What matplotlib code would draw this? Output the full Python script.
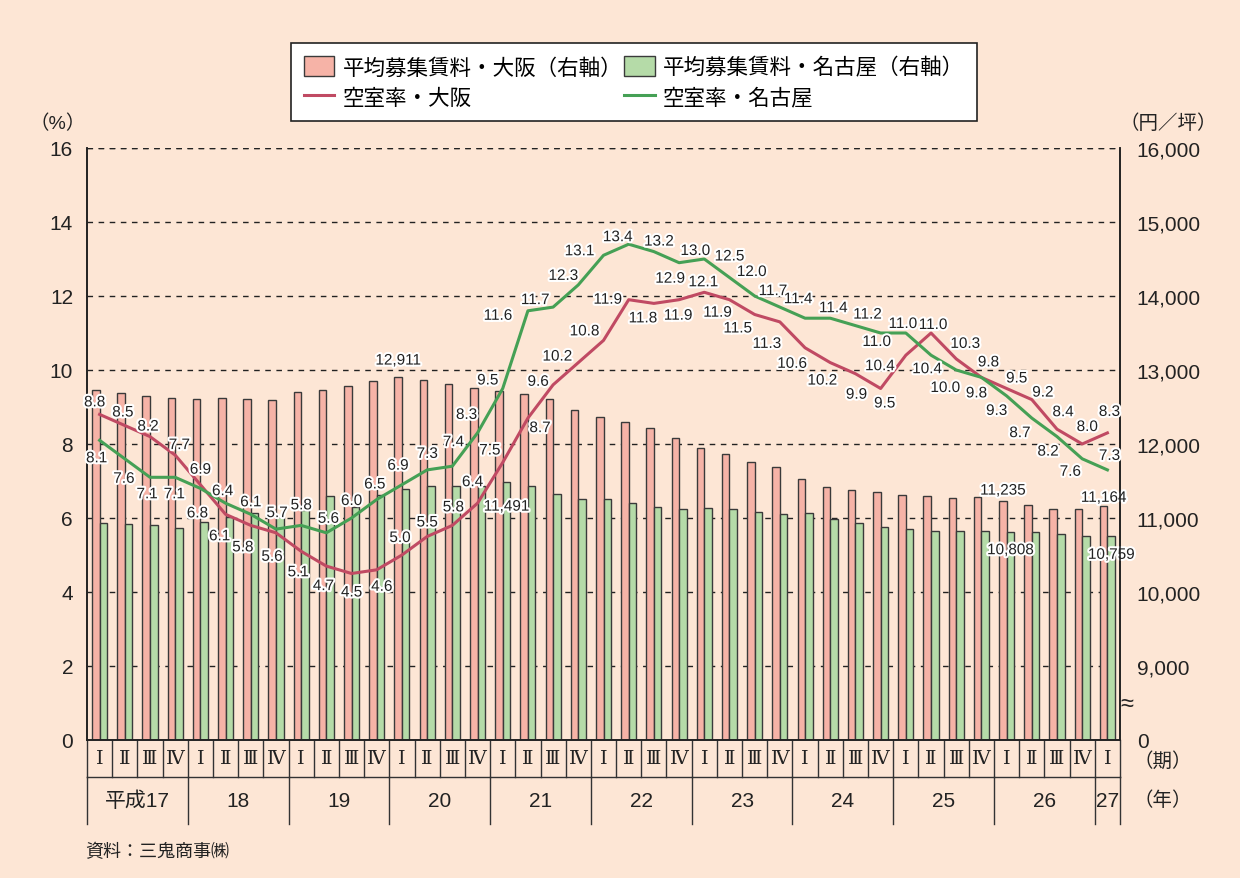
import numpy as np
import matplotlib.pyplot as plt
from matplotlib.patches import Patch
from matplotlib.lines import Line2D
import matplotlib.patheffects as pe
import matplotlib.transforms as mtransforms

plt.rcParams['font.family'] = ['Liberation Sans', 'Noto Sans CJK JP', 'DejaVu Sans']

# data: 平成17年I期 .. 平成27年I期
quarters = ['Ⅰ', 'Ⅱ', 'Ⅲ', 'Ⅳ'] * 10 + ['Ⅰ']
years = ['平成17', '18', '19', '20', '21', '22', '23', '24', '25', '26', '27']
year_len = [4, 4, 4, 4, 4, 4, 4, 4, 4, 4, 1]

vac_osaka = [8.8, 8.5, 8.2, 7.7, 6.9, 6.1, 5.8, 5.6, 5.1, 4.7, 4.5, 4.6, 5.0, 5.5, 5.8, 6.4,
             7.5, 8.7, 9.6, 10.2, 10.8, 11.9, 11.8, 11.9, 12.1, 11.9, 11.5, 11.3, 10.6, 10.2,
             9.9, 9.5, 10.4, 11.0, 10.3, 9.8, 9.5, 9.2, 8.4, 8.0, 8.3]
vac_nagoya = [8.1, 7.6, 7.1, 7.1, 6.8, 6.4, 6.1, 5.7, 5.8, 5.6, 6.0, 6.5, 6.9, 7.3, 7.4, 8.3,
              9.5, 11.6, 11.7, 12.3, 13.1, 13.4, 13.2, 12.9, 13.0, 12.5, 12.0, 11.7, 11.4, 11.4,
              11.2, 11.0, 11.0, 10.4, 10.0, 9.8, 9.3, 8.7, 8.2, 7.6, 7.3]
rent_osaka = [12723, 12692, 12655, 12615, 12606, 12615, 12606, 12601, 12709, 12723, 12781,
              12853, 12911, 12871, 12817, 12759, 12718, 12673, 12606, 12458, 12359, 12292,
              12220, 12086, 11942, 11861, 11763, 11693, 11521, 11421, 11381, 11346, 11314,
              11292, 11265, 11279, 11235, 11182, 11125, 11121, 11164]
rent_nagoya = [10933, 10919, 10910, 10861, 10942, 11009, 11067, 11013, 11112, 11292, 11148,
               11305, 11390, 11439, 11435, 11439, 11491, 11427, 11319, 11252, 11252, 11202,
               11152, 11121, 11130, 11121, 11085, 11058, 11071, 10990, 10936, 10874, 10856,
               10829, 10829, 10829, 10808, 10811, 10789, 10763, 10759]

left_ticks = [0, 2, 4, 6, 8, 10, 12, 14, 16]
right_ticks = [8000, 9000, 10000, 11000, 12000, 13000, 14000, 15000, 16000]
right_labels = ['0', '9,000', '10,000', '11,000', '12,000', '13,000', '14,000', '15,000', '16,000']

# label offsets in pixels (dx, dy)
off_osaka = [(-5, 12), (-2, 13), (-2, 10), (4, 10), (0, 15), (-6, -22), (-8, -22), (-4, -24),
             (-3, -21), (-3, -20), (0, -19), (5, -17), (-2, 17), (0, 14), (1, 18), (-5, 21),
             (-13, 12), (12, -10), (-15, 3), (-21, 6), (-19, 9), (-21, 0), (-11, -15), (-1, -16),
             (-1, 10), (-12, -13), (-17, -14), (-13, -22), (-13, -16), (-8, -18), (1, -21),
             (4, -15), (-26, -11), (2, 8), (9, 15), (7, 15), (10, 10), (11, 7), (6, 17), (5, 17),
             (2, 21)]
off_nagoya = [(-3, -18), (-1, -20), (-3, -17), (-1, -17), (-3, -25), (-3, 12), (0, 12), (1, 16),
              (0, 20), (2, 14), (0, 17), (-2, 15), (-4, 19), (0, 16), (1, 24), (-11, 18),
              (-15, 8), (-30, -5), (-18, 7), (-15, 9), (-24, 4), (-11, 7), (5, 10), (-9, -16),
              (-9, 8), (0, 21), (-3, 24), (-7, 16), (-7, 19), (3, 10), (12, 11), (-4, -9),
              (-3, 9), (-4, -14), (-11, -18), (-5, -16), (-10, -15), (-12, -15), (-9, -15),
              (-12, -13), (2, 14)]

bg = '#fde6d5'
c_pink = '#f6b3a7'
c_lgreen = '#b5dba8'
c_red = '#c04a63'
c_green = '#45a055'
ink = '#222222'

fig = plt.figure(figsize=(12.4, 8.79), dpi=100, facecolor=bg)
W, H = 1240, 879
ax = fig.add_axes([87 / W, 1 - 741 / H, (1120 - 87) / W, (741 - 149) / H])
ax2 = ax.twinx()
ax.set_zorder(ax2.get_zorder() + 1)
ax.patch.set_visible(False)
ax2.set_facecolor(bg)

x = np.arange(len(quarters))
w = 0.3

# bars (right axis)
ax2.bar(x - w / 2, np.array(rent_osaka) - 8000, bottom=8000, width=w, color=c_pink,
        edgecolor='#3a3a3a', linewidth=1, zorder=2)
ax2.bar(x + w / 2, np.array(rent_nagoya) - 8000, bottom=8000, width=w, color=c_lgreen,
        edgecolor='#3a3a3a', linewidth=1, zorder=2)
for v in right_ticks[1:]:
    ax2.axhline(v, color=ink, lw=1, ls=(0, (4, 4)), zorder=1)
ax2.set_ylim(8000, 16000)
ax2.set_yticks(right_ticks)
ax2.set_yticklabels(right_labels)

# lines (left axis)
ax.plot(x, vac_osaka, color=c_red, lw=2.2, zorder=3)
ax.plot(x, vac_nagoya, color=c_green, lw=2.2, zorder=3)
ax.set_xlim(-0.5, len(x) - 0.5)
ax.set_ylim(0, 16)
ax.set_yticks(left_ticks)
ax.set_xticks([])

stroke = [pe.withStroke(linewidth=3, foreground='white')]
for i in range(len(x)):
    ax.annotate(f'{vac_osaka[i]:.1f}', (x[i], vac_osaka[i]), xytext=off_osaka[i],
                textcoords='offset pixels', ha='center', va='center', fontsize=11,
                color=ink, path_effects=stroke, zorder=5)
    ax.annotate(f'{vac_nagoya[i]:.1f}', (x[i], vac_nagoya[i]), xytext=off_nagoya[i],
                textcoords='offset pixels', ha='center', va='center', fontsize=11,
                color=ink, path_effects=stroke, zorder=5)

# rent labels
for i, dy in [(12, 16), (36, 10), (40, 8)]:
    ax2.annotate(f'{rent_osaka[i]:,}', (x[i] - w / 2, rent_osaka[i]), xytext=(0, dy),
                 textcoords='offset pixels', ha='center', va='center', fontsize=11,
                 color=ink, path_effects=stroke, zorder=5)
for i, dy in [(16, -25), (36, -18), (40, -19)]:
    ax2.annotate(f'{rent_nagoya[i]:,}', (x[i] + w / 2, rent_nagoya[i]), xytext=(0, dy),
                 textcoords='offset pixels', ha='center', va='center', fontsize=11,
                 color=ink, path_effects=stroke, zorder=5)

for a in (ax, ax2):
    a.spines['top'].set_visible(False)
    for s in ('left', 'right', 'bottom'):
        a.spines[s].set_color(ink)
        a.spines[s].set_linewidth(1.2)
ax2.axhline(16000, color=ink, lw=1, ls=(0, (4, 4)), zorder=1)
ax.tick_params(axis='y', length=0, pad=10, labelsize=15, colors=ink)
ax2.tick_params(axis='y', length=0, pad=12, labelsize=15, colors=ink)
ax2.text(1.0, 8480, '≈', transform=mtransforms.blended_transform_factory(ax2.transAxes, ax2.transData),
         ha='left', va='center', fontsize=17, color=ink, zorder=6)

# period / year table under the axis
tr = mtransforms.blended_transform_factory(ax.transData, ax.transAxes)
ah = 741 - 149
r1 = -(778 - 741) / ah
r2 = -(825 - 741) / ah
lk = dict(color='#333333', lw=1, transform=tr, clip_on=False)
for b in np.arange(-0.5, len(x), 1.0):
    ax.plot([b, b], [0, r1], **lk)
ax.plot([-0.5, len(x) - 0.5], [r1, r1], **lk)
pos = -0.5
for n in [0] + year_len:
    pos += n
    ax.plot([pos, pos], [r1, r2], **lk)
for i, q in enumerate(quarters):
    ax.text(x[i], r1 / 2, q, transform=tr, ha='center', va='center', fontsize=14,
            family=['DejaVu Serif'], color=ink)
start = -0.5
for y, n in zip(years, year_len):
    ax.text(start + n / 2, (r1 + r2) / 2, y, transform=tr, ha='center', va='center',
            fontsize=15, color=ink)
    start += n

# units and notes
fig.text(58 / W, 1 - 124 / H, '（%）', ha='center', va='center', fontsize=14, color=ink)
fig.text(1168 / W, 1 - 124 / H, '（円／坪）', ha='center', va='center', fontsize=14, color=ink)
fig.text(1163 / W, 1 - 761 / H, '（期）', ha='center', va='center', fontsize=14, color=ink)
fig.text(1163 / W, 1 - 801 / H, '（年）', ha='center', va='center', fontsize=14, color=ink)
fig.text(85 / W, 1 - 853 / H, '資料：三鬼商事㈱', ha='left', va='center', fontsize=13, color=ink)

handles = [Patch(fc=c_pink, ec='#3a3a3a', lw=1),
           Line2D([], [], color=c_red, lw=2.2),
           Patch(fc=c_lgreen, ec='#3a3a3a', lw=1),
           Line2D([], [], color=c_green, lw=2.2)]
labels = ['平均募集賃料・大阪（右軸）', '空室率・大阪', '平均募集賃料・名古屋（右軸）', '空室率・名古屋']
leg = fig.legend(handles, labels, loc='upper left', ncol=2, mode='expand',
                 bbox_to_anchor=(280 / W, 1 - 117 / H, 708 / W, 84 / H),
                 fontsize=15.5, frameon=True, fancybox=False, edgecolor=ink,
                 facecolor='white', framealpha=1, handlelength=1.4, handleheight=1.1,
                 columnspacing=0.6, handletextpad=0.4, borderpad=0.6, labelspacing=0.35)
leg.get_frame().set_linewidth(1.2)

fig.savefig('out.png', dpi=100, facecolor=bg)
